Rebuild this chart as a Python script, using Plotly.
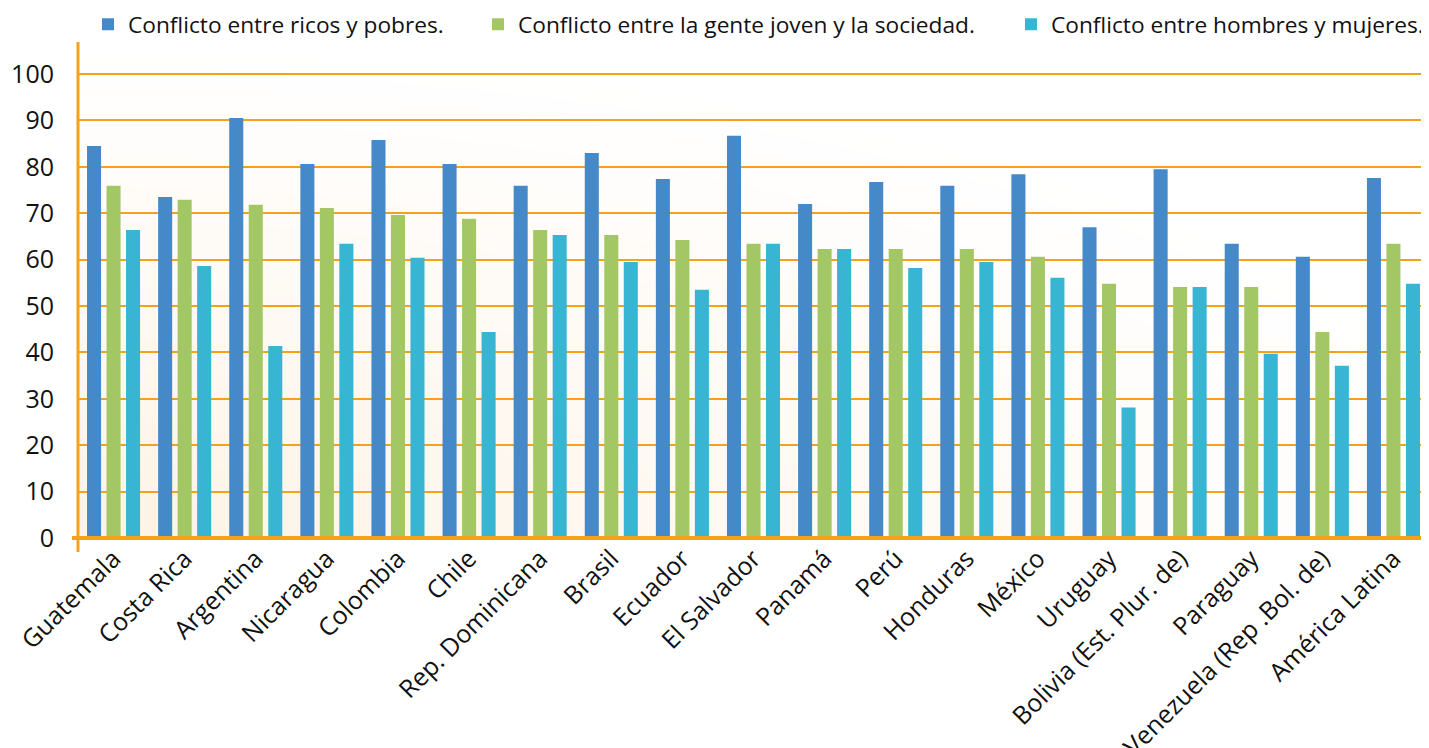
import plotly.graph_objects as go

countries = ["Guatemala", "Costa Rica", "Argentina", "Nicaragua", "Colombia", "Chile",
             "Rep. Dominicana", "Brasil", "Ecuador", "El Salvador", "Panamá", "Perú",
             "Honduras", "México", "Uruguay", "Bolivia (Est. Plur. de)", "Paraguay",
             "Venezuela (Rep .Bol. de)", "América Latina"]

ricos_pobres = [84.5, 73.5, 90.5, 80.6, 85.8, 80.6, 75.9, 83.0, 77.4, 86.7, 72.0, 76.7,
                75.9, 78.4, 67.0, 79.5, 63.4, 60.6, 77.6]
joven_sociedad = [75.9, 72.9, 71.8, 71.1, 69.6, 68.8, 66.4, 65.3, 64.2, 63.4, 62.3, 62.3,
                  62.3, 60.6, 54.8, 54.1, 54.1, 44.4, 63.4]
hombres_mujeres = [66.4, 58.6, 41.4, 63.4, 60.4, 44.4, 65.3, 59.5, 53.5, 63.4, 62.3, 58.2,
                   59.5, 56.1, 28.1, 54.1, 39.7, 37.1, 54.8]

series_names = ["Conflicto entre ricos y pobres.",
                "Conflicto entre la gente joven y la sociedad.",
                "Conflicto entre hombres y mujeres."]
series_values = [ricos_pobres, joven_sociedad, hombres_mujeres]
colors = ["#4689C8", "#A3C765", "#37B5D3"]
legend_ids = ["legend", "legend2", "legend3"]

y_ticks = list(range(0, 101, 10))

# The page body adds an 8px offset, so the figure is sized 8px smaller.
OFF = 8
W, H = 1429 - OFF, 748 - OFF
ML, MR, MT, MB = 78 - OFF, 0, 42 - OFF, 210
PW = W - ML - MR
PH = H - MT - MB
YMAX = 106.9

TEXT_OFFSET = 40
legend_cfg = [
    dict(x=(128 - OFF - TEXT_OFFSET) / W, xanchor="left"),
    dict(x=(518 - OFF - TEXT_OFFSET) / W, xanchor="left"),
    dict(x=1.0, xanchor="right"),
]
legend_y = 1 - (24.5 - OFF) / H

fig = go.Figure()
for name, vals, col, lg in zip(series_names, series_values, colors, legend_ids):
    fig.add_trace(go.Bar(x=countries, y=vals, name=name, marker=dict(color=col, line=dict(width=0)),
                         legend=lg, showlegend=True))

# soft radial background gradient (bottom-left peach -> white)
shapes = []
n = 30
peach = (253, 242, 228)
for i in range(n):
    r = 1.0 - i / n
    t = r ** 0.8
    c = tuple(int(round(255 * t + p * (1 - t))) for p in peach)
    rx = r * 21.0
    ry = r * 108.0
    shapes.append(dict(type="circle", xref="x", yref="y", x0=-0.5 - rx, x1=-0.5 + rx,
                       y0=-ry, y1=ry, fillcolor="rgb(%d,%d,%d)" % c, line=dict(width=0),
                       layer="below"))

orange = "#F7A11A"
# vertical axis line (extends slightly below the baseline)
shapes.append(dict(type="line", xref="paper", yref="paper", x0=0, x1=0,
                   y0=-14 / PH, y1=1, line=dict(color=orange, width=3), layer="above"))
# horizontal baseline (extends slightly left of the vertical axis)
shapes.append(dict(type="line", xref="paper", yref="paper", x0=-6 / PW, x1=1,
                   y0=0, y1=0, line=dict(color=orange, width=4), layer="above"))

layout_legends = {}
for lg, cfg in zip(legend_ids, legend_cfg):
    layout_legends[lg] = dict(orientation="h", xref="container", yref="container",
                              x=cfg["x"], xanchor=cfg["xanchor"], y=legend_y, yanchor="middle",
                              bgcolor="rgba(0,0,0,0)",
                              font=dict(family="Open Sans", size=22.7, color="#111111"))

fig.update_layout(
    width=W, height=H,
    margin=dict(l=ML, r=MR, t=MT, b=MB, autoexpand=False),
    showlegend=True,
    barmode="group", bargap=0.177, bargroupgap=0.28,
    plot_bgcolor="white", paper_bgcolor="white",
    font=dict(family="Open Sans", color="#111111"),
    xaxis=dict(type="category", range=[-0.5, len(countries) - 0.5], tickangle=-45,
               tickfont=dict(size=25, color="#111111"), showgrid=False, showline=False,
               ticks="", zeroline=False, automargin=False),
    yaxis=dict(range=[0, YMAX], tickvals=y_ticks, ticktext=[str(v) for v in y_ticks],
               tickfont=dict(size=25, color="#111111"), showgrid=True, gridcolor=orange,
               gridwidth=2, showline=False, zeroline=False, ticks="outside", ticklen=18,
               tickcolor="rgba(0,0,0,0)", automargin=False),
    shapes=shapes,
    **layout_legends,
)

fig.write_html("out.html")
